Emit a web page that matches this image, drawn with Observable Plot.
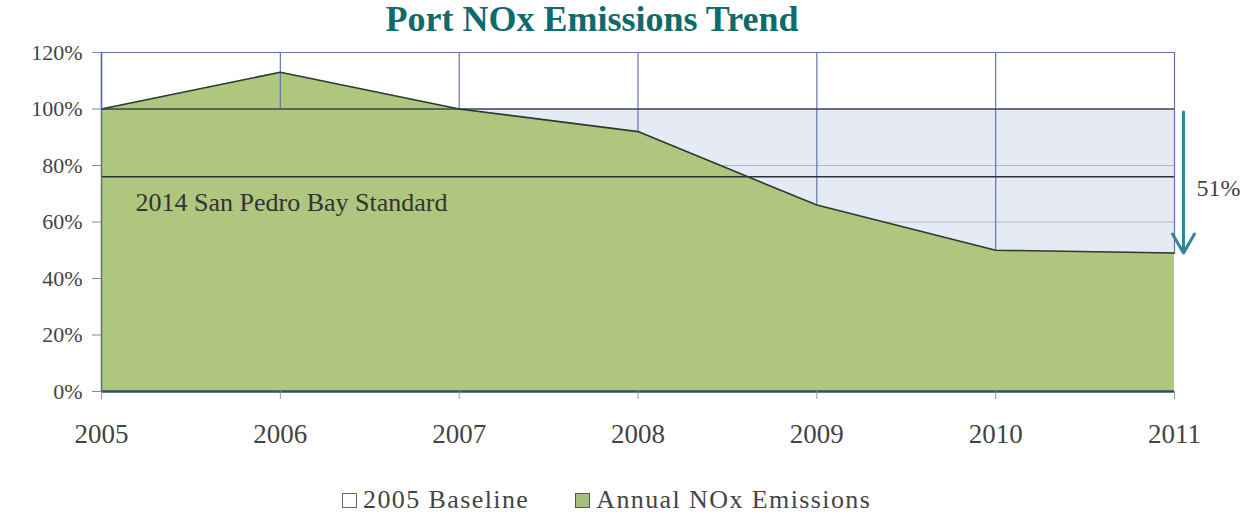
<!DOCTYPE html>
<html>
<head>
<meta charset="utf-8">
<script src="https://cdn.jsdelivr.net/npm/d3@7"></script>
<script src="https://cdn.jsdelivr.net/npm/@observablehq/plot@0.6"></script>
<style>
  html, body { margin: 0; padding: 0; background: #fff; }
  body { width: 1252px; height: 517px; overflow: hidden; font-family: "Liberation Serif", "DejaVu Serif", serif; }
  #title { height: 35px; line-height: 38px; text-align: center; padding-right: 68px; font-size: 36px; font-weight: bold; color: #0f6a6c; }
  #chart { height: 430px; }
  #legend { display: flex; align-items: center; font-size: 26px; letter-spacing: 1.4px; color: #444; padding-left: 342px; margin-top: 20px; line-height: 30px; }
  .item { display: flex; align-items: center; margin-right: 46px; }
  .sw { width: 15px; height: 15px; margin-right: 6px; box-sizing: border-box; }
</style>
</head>
<body>
<div id="title">Port NOx Emissions Trend</div>
<div id="chart"></div>
<div id="legend">
  <div class="item"><div class="sw" style="background:#fff;border:1.5px solid #666"></div>2005 Baseline</div>
  <div class="item"><div class="sw" style="background:#a7bf7c;border:1.5px solid #555"></div>Annual NOx Emissions</div>
</div>
<script>
const years = [2005, 2006, 2007, 2008, 2009, 2010, 2011];
const emissions = [100, 113, 100, 92, 66, 50, 49];
const baseline = [100, 100, 100, 100, 100, 100, 100];
const standardValue = 76;
const standardLabel = "2014 San Pedro Bay Standard";
const reductionLabel = "51%";
const yTicks = [0, 20, 40, 60, 80, 100, 120];
const gridTicks = [20, 40, 60, 80];

const rows = years.map((y, i) => ({year: y, value: emissions[i], base: baseline[i]}));
const last = rows[rows.length - 1];

const chart = Plot.plot({
  width: 1252,
  height: 430,
  marginLeft: 101,
  marginRight: 78,
  marginTop: 17,
  marginBottom: 74,
  style: {fontFamily: "Liberation Serif, serif", background: "#fff"},
  x: {domain: [2005, 2011], label: null},
  y: {domain: [0, 120], label: null},
  marks: [
    Plot.areaY(rows, {x: "year", y: "base", fill: "#e5eaf4"}),
    Plot.ruleY(gridTicks, {stroke: "#b3b8c6", strokeWidth: 1}),
    Plot.areaY(rows, {x: "year", y: "value", fill: "#afc67f"}),
    Plot.ruleX(rows, {x: "year", y1: d => Math.min(d.value, 100), y2: 120, stroke: "#6474aa", strokeWidth: 1.2}),
    Plot.ruleY([120], {stroke: "#6474aa", strokeWidth: 1.2}),
    Plot.ruleY([100], {stroke: "#3c4450", strokeWidth: 1.6}),
    Plot.ruleY([standardValue], {stroke: "#2c3338", strokeWidth: 1.6}),
    Plot.lineY(rows, {x: "year", y: "value", stroke: "#2c3a34", strokeWidth: 1.6}),
    Plot.ruleX([2005], {stroke: "#5a6c9a", strokeWidth: 1.5}),
    Plot.ruleY([0], {stroke: "#2f4f6a", strokeWidth: 2.5}),
    Plot.axisY(yTicks, {label: null, tickFormat: d => d + "%", tickSize: 9, tickPadding: 10, fontSize: 22, color: "#444", stroke: "#7a8aa8"}),
    Plot.axisX(years, {label: null, tickFormat: d => String(d), tickSize: 8, tickPadding: 24, fontSize: 27, color: "#444", stroke: "#8a9ab0"}),
    Plot.text([standardLabel], {x: 2005, y: standardValue, dx: 34, dy: 26, textAnchor: "start", fontSize: 26, fill: "#333", style: "letter-spacing:1.1px"}),
    Plot.arrow([last], {x1: "year", x2: "year", y1: 100, y2: "value", dx: 9, insetStart: 3, stroke: "#2e8698", strokeWidth: 3, headLength: 11, headAngle: 60, bend: 0}),
    Plot.text([reductionLabel], {x: 2011, y: 72, dx: 22, textAnchor: "start", fontSize: 24, fill: "#444"})
  ]
});
document.getElementById("chart").appendChild(chart);
</script>
</body>
</html>
